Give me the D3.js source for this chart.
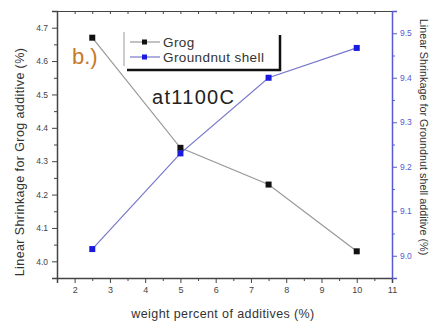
<!DOCTYPE html>
<html>
<head>
<meta charset="utf-8">
<script src="https://cdn.jsdelivr.net/npm/d3@7"></script>
<style>
  body { margin: 0; background: #fff; }
  svg { display: block; font-family: Arial, "Liberation Sans", sans-serif; }
</style>
</head>
<body>
<div class="chart"></div>
<script>
// data
const additive = [2.5, 5, 7.5, 10];
const grog = [4.67, 4.34, 4.23, 4.03];
const groundnut = [9.015, 9.23, 9.40, 9.467];
const xTicks = [2, 3, 4, 5, 6, 7, 8, 9, 10, 11];
const leftTicks = [4.0, 4.1, 4.2, 4.3, 4.4, 4.5, 4.6, 4.7];
const rightTicks = [9.0, 9.1, 9.2, 9.3, 9.4, 9.5];
const seriesNames = ["Grog", "Groundnut shell"];

const dims = {
  width: 432,
  height: 325,
  margin: {left: 57, right: 40, top: 11, bottom: 47}
};
const blue = "#5a5ad0";
const plotRight = dims.width - dims.margin.right;
const plotBottom = dims.height - dims.margin.bottom;

const svg = d3.select(".chart").append("svg")
  .attr("width", dims.width)
  .attr("height", dims.height);

const x = d3.scaleLinear().domain([1.5, 11]).range([dims.margin.left, plotRight]);
const yL = d3.scaleLinear().domain([3.95, 4.75]).range([plotBottom, dims.margin.top]);
const yR = d3.scaleLinear().domain([8.95, 9.55]).range([plotBottom, dims.margin.top]);

const minor = (lo, hi, step) => d3.range(lo, hi + step / 2, step);

// frame: top axis with inward ticks
svg.append("g")
  .attr("transform", `translate(0,${dims.margin.top})`)
  .call(d3.axisTop(x).tickValues(minor(2, 10.5, 0.5)).tickSize(-3).tickFormat(""))
  .call(g => g.select(".domain").attr("stroke", "#444"))
  .call(g => g.selectAll(".tick line").attr("stroke", "#444"));

// bottom axis
svg.append("g")
  .attr("transform", `translate(0,${plotBottom})`)
  .call(d3.axisBottom(x).tickValues(minor(2.5, 10.5, 1)).tickSize(3).tickFormat(""))
  .call(g => g.select(".domain").remove())
  .call(g => g.selectAll(".tick line").attr("stroke", "#444"));
svg.append("g")
  .attr("transform", `translate(0,${plotBottom})`)
  .call(d3.axisBottom(x).tickValues(xTicks).tickSize(5).tickPadding(4).tickFormat(d3.format("d")))
  .call(g => g.select(".domain").attr("stroke", "#444").attr("stroke-width", 1.5))
  .call(g => g.selectAll(".tick line").attr("stroke", "#444"))
  .call(g => g.selectAll(".tick text").attr("fill", "#444").style("font-size", "9px"));

// left axis
svg.append("g")
  .attr("transform", `translate(${dims.margin.left},0)`)
  .call(d3.axisLeft(yL).tickValues(minor(4.05, 4.65, 0.1)).tickSize(3).tickFormat(""))
  .call(g => g.select(".domain").remove())
  .call(g => g.selectAll(".tick line").attr("stroke", "#444"));
svg.append("g")
  .attr("transform", `translate(${dims.margin.left},0)`)
  .call(d3.axisLeft(yL).tickValues(leftTicks).tickSize(5).tickPadding(4).tickFormat(d3.format(".1f")))
  .call(g => g.select(".domain").attr("stroke", "#444").attr("stroke-width", 1.5))
  .call(g => g.selectAll(".tick line").attr("stroke", "#444"))
  .call(g => g.selectAll(".tick text").attr("fill", "#444").style("font-size", "8.5px"));

// right axis (blue)
svg.append("g")
  .attr("transform", `translate(${plotRight},0)`)
  .call(d3.axisRight(yR).tickValues(minor(9.05, 9.45, 0.1)).tickSize(3).tickFormat(""))
  .call(g => g.select(".domain").remove())
  .call(g => g.selectAll(".tick line").attr("stroke", blue));
svg.append("g")
  .attr("transform", `translate(${plotRight},0)`)
  .call(d3.axisRight(yR).tickValues(rightTicks).tickSize(5).tickPadding(3).tickFormat(d3.format(".1f")))
  .call(g => g.select(".domain").attr("stroke", blue).attr("stroke-width", 1.5))
  .call(g => g.selectAll(".tick line").attr("stroke", blue))
  .call(g => g.selectAll(".tick text").attr("fill", blue).style("font-size", "8.5px"));

// axis titles
svg.append("text")
  .attr("transform", "translate(24,162) rotate(-90)")
  .attr("text-anchor", "middle")
  .attr("fill", "#333")
  .style("font-size", "12.5px")
  .style("letter-spacing", "0.4px")
  .text("Linear Shrinkage for Grog additive (%)");
svg.append("text")
  .attr("transform", "translate(420,137) rotate(90)")
  .attr("text-anchor", "middle")
  .attr("fill", "#333")
  .style("font-size", "10.8px")
  .text("Linear Shrinkage for Groundnut shell additive (%)");
svg.append("text")
  .attr("x", 223)
  .attr("y", 318)
  .attr("text-anchor", "middle")
  .attr("fill", "#333")
  .style("font-size", "12.5px")
  .style("letter-spacing", "0.4px")
  .text("weight percent of additives (%)");

// series
const grogPts = additive.map((a, i) => [a, grog[i]]);
const gnPts = additive.map((a, i) => [a, groundnut[i]]);

svg.append("path")
  .attr("d", d3.line().x(d => x(d[0])).y(d => yL(d[1]))(grogPts))
  .attr("fill", "none").attr("stroke", "#999").attr("stroke-width", 1.2);
svg.append("path")
  .attr("d", d3.line().x(d => x(d[0])).y(d => yR(d[1]))(gnPts))
  .attr("fill", "none").attr("stroke", "#7777cc").attr("stroke-width", 1.2);

svg.append("g").selectAll("rect").data(grogPts).join("rect")
  .attr("x", d => x(d[0]) - 3).attr("y", d => yL(d[1]) - 3)
  .attr("width", 6).attr("height", 6).attr("fill", "#111");
svg.append("g").selectAll("rect").data(gnPts).join("rect")
  .attr("x", d => x(d[0]) - 3).attr("y", d => yR(d[1]) - 3)
  .attr("width", 6).attr("height", 6).attr("fill", "#1a1ae0");

// annotations
svg.append("text")
  .attr("x", 72).attr("y", 64)
  .attr("fill", "#c8782a")
  .style("font-size", "22px")
  .text("b.)");
svg.append("text")
  .attr("x", 152).attr("y", 104)
  .attr("fill", "#222")
  .style("font-size", "20px")
  .style("letter-spacing", "1.3px")
  .text("at1100C");

// legend
const legend = svg.append("g");
legend.append("line").attr("x1", 124).attr("x2", 124).attr("y1", 32).attr("y2", 66)
  .attr("stroke", "#999").attr("stroke-width", 1);
legend.append("path").attr("d", "M127,70H280V35")
  .attr("fill", "none").attr("stroke", "#111").attr("stroke-width", 2.5);
const legColors = [["#999", "#111"], ["#7777cc", "#1a1ae0"]];
seriesNames.forEach((name, i) => {
  const yy = 42 + i * 15;
  legend.append("line").attr("x1", 130).attr("x2", 160).attr("y1", yy).attr("y2", yy)
    .attr("stroke", legColors[i][0]).attr("stroke-width", 1.2);
  legend.append("rect").attr("x", 142).attr("y", yy - 2.5).attr("width", 5).attr("height", 5)
    .attr("fill", legColors[i][1]);
  legend.append("text").attr("x", 163).attr("y", yy + 4.5)
    .attr("fill", "#333").style("font-size", "13.5px").style("letter-spacing", "0.4px").text(name);
});
</script>
</body>
</html>
